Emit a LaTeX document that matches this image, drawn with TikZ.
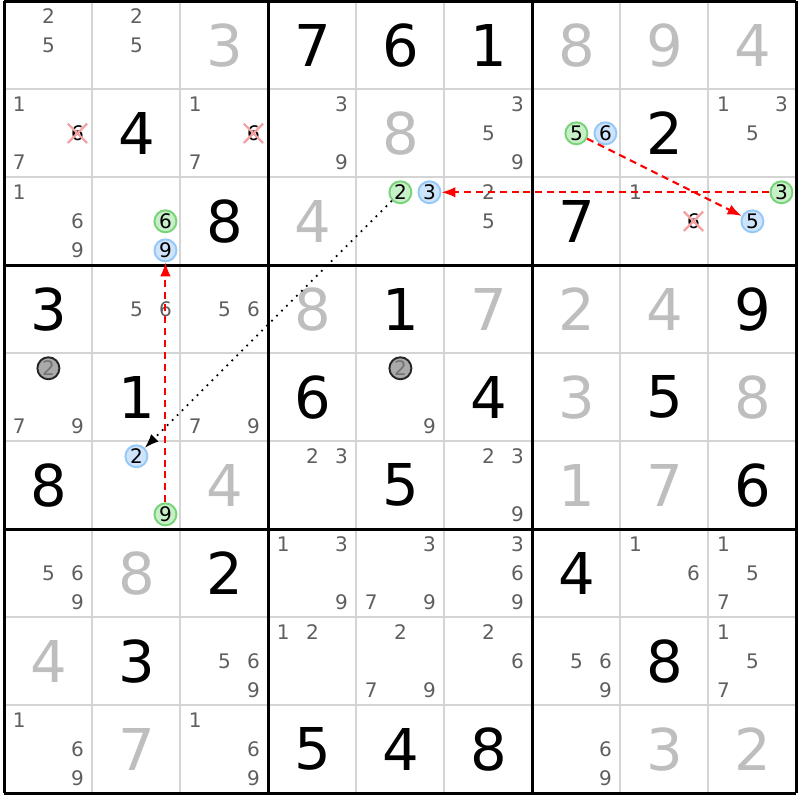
\documentclass[tikz,border=0pt]{standalone}
\usepackage{fontspec}
\setmainfont{DejaVu Sans}
\usetikzlibrary{arrows.meta,shapes.misc}
\definecolor{candgray}{RGB}{95,95,95}
\definecolor{solvedgray}{RGB}{190,190,190}
\definecolor{linegray}{RGB}{212,212,212}
\definecolor{strokegreen}{RGB}{120,210,120}
\definecolor{fillgreen}{RGB}{200,240,200}
\definecolor{strokeblue}{RGB}{150,200,245}
\definecolor{fillblue}{RGB}{205,228,252}
\definecolor{fillgray}{RGB}{170,170,170}
\definecolor{elimred}{RGB}{245,160,160}
\definecolor{linkred}{RGB}{255,0,0}
\newcommand{\givendigit}[3]{\node[given] (g#1#2) at (#2-0.5,0.5-#1) {#3};}
\newcommand{\solveddigit}[3]{\node[solved] (g#1#2) at (#2-0.5,0.5-#1) {#3};}
\newcommand{\candidate}[4][cand]{\node[#1] (c#2#3#4) at ({#3-0.5+(mod(#4-1,3)-1)*0.33},{0.5-#2-(floor((#4-1)/3)-1)*0.33}) {#4};}
\newcommand{\cellcands}[3]{\foreach \n in {#3} {\candidate{#1}{#2}{\n}}}
\tikzstyle{given} = [font=\fontsize{16.4}{18}\selectfont, text=black, inner sep=0pt]
\tikzstyle{solved} = [given, text=solvedgray]
\tikzstyle{cand} = [font=\fontsize{5.7}{7}\selectfont, text=candgray, inner sep=0pt]
\tikzstyle{ringcand} = [cand, circle, line width=0.55pt, minimum size=0.22cm, text=black]
\tikzstyle{greencand} = [ringcand, draw=strokegreen, fill=fillgreen]
\tikzstyle{bluecand} = [ringcand, draw=strokeblue, fill=fillblue]
\tikzstyle{graycand} = [ringcand, draw=black!85, fill=fillgray, text=black!55]
\tikzstyle{elimcand} = [cand, cross out, draw=elimred, line width=0.65pt, minimum size=0.17cm, text=black]
\tikzstyle{cellline} = [linegray, line width=0.57pt]
\tikzstyle{boxline} = [black, line width=0.85pt]
\tikzstyle{stronglink} = [draw=linkred, line width=0.6pt, dash pattern=on 2pt off 1.4pt, -{Latex[length=4pt,width=3pt]}]
\tikzstyle{weaklink} = [draw=black, line width=0.5pt, dash pattern=on 0.5pt off 1.5pt, -{Latex[length=4pt,width=3pt]}]

\begin{document}
\begin{tikzpicture}[x=0.88cm,y=0.88cm]
    \useasboundingbox (-0.05,0.015) rectangle (9.0409,-9.0759);
    \foreach \i in {1,2,4,5,7,8} {
        \draw[cellline] (\i,0) -- (\i,-9);
        \draw[cellline] (0,-\i) -- (9,-\i);
    }
    \foreach \i in {0,3,6,9} {
        \draw[boxline] (\i,0) -- (\i,-9);
        \draw[boxline] (0,-\i) -- (9,-\i);
    }
    % row 1
    \cellcands{1}{1}{2,5}
    \cellcands{1}{2}{2,5}
    \solveddigit{1}{3}{3}
    \givendigit{1}{4}{7}
    \givendigit{1}{5}{6}
    \givendigit{1}{6}{1}
    \solveddigit{1}{7}{8}
    \solveddigit{1}{8}{9}
    \solveddigit{1}{9}{4}
    % row 2
    \cellcands{2}{1}{1,7}
    \candidate[elimcand]{2}{1}{6}
    \givendigit{2}{2}{4}
    \cellcands{2}{3}{1,7}
    \candidate[elimcand]{2}{3}{6}
    \cellcands{2}{4}{3,9}
    \solveddigit{2}{5}{8}
    \cellcands{2}{6}{3,5,9}
    \candidate[greencand]{2}{7}{5}
    \candidate[bluecand]{2}{7}{6}
    \givendigit{2}{8}{2}
    \cellcands{2}{9}{1,3,5}
    % row 3
    \cellcands{3}{1}{1,6,9}
    \candidate[greencand]{3}{2}{6}
    \candidate[bluecand]{3}{2}{9}
    \givendigit{3}{3}{8}
    \solveddigit{3}{4}{4}
    \candidate[greencand]{3}{5}{2}
    \candidate[bluecand]{3}{5}{3}
    \cellcands{3}{6}{2,5}
    \givendigit{3}{7}{7}
    \candidate{3}{8}{1}
    \candidate[elimcand]{3}{8}{6}
    \candidate[greencand]{3}{9}{3}
    \candidate[bluecand]{3}{9}{5}
    % row 4
    \givendigit{4}{1}{3}
    \cellcands{4}{2}{5,6}
    \cellcands{4}{3}{5,6}
    \solveddigit{4}{4}{8}
    \givendigit{4}{5}{1}
    \solveddigit{4}{6}{7}
    \solveddigit{4}{7}{2}
    \solveddigit{4}{8}{4}
    \givendigit{4}{9}{9}
    % row 5
    \candidate[graycand]{5}{1}{2}
    \cellcands{5}{1}{7,9}
    \givendigit{5}{2}{1}
    \cellcands{5}{3}{7,9}
    \givendigit{5}{4}{6}
    \candidate[graycand]{5}{5}{2}
    \candidate{5}{5}{9}
    \givendigit{5}{6}{4}
    \solveddigit{5}{7}{3}
    \givendigit{5}{8}{5}
    \solveddigit{5}{9}{8}
    % row 6
    \givendigit{6}{1}{8}
    \candidate[bluecand]{6}{2}{2}
    \candidate[greencand]{6}{2}{9}
    \solveddigit{6}{3}{4}
    \cellcands{6}{4}{2,3}
    \givendigit{6}{5}{5}
    \cellcands{6}{6}{2,3,9}
    \solveddigit{6}{7}{1}
    \solveddigit{6}{8}{7}
    \givendigit{6}{9}{6}
    % row 7
    \cellcands{7}{1}{5,6,9}
    \solveddigit{7}{2}{8}
    \givendigit{7}{3}{2}
    \cellcands{7}{4}{1,3,9}
    \cellcands{7}{5}{3,7,9}
    \cellcands{7}{6}{3,6,9}
    \givendigit{7}{7}{4}
    \cellcands{7}{8}{1,6}
    \cellcands{7}{9}{1,5,7}
    % row 8
    \solveddigit{8}{1}{4}
    \givendigit{8}{2}{3}
    \cellcands{8}{3}{5,6,9}
    \cellcands{8}{4}{1,2}
    \cellcands{8}{5}{2,7,9}
    \cellcands{8}{6}{2,6}
    \cellcands{8}{7}{5,6,9}
    \givendigit{8}{8}{8}
    \cellcands{8}{9}{1,5,7}
    % row 9
    \cellcands{9}{1}{1,6,9}
    \solveddigit{9}{2}{7}
    \cellcands{9}{3}{1,6,9}
    \givendigit{9}{4}{5}
    \givendigit{9}{5}{4}
    \givendigit{9}{6}{8}
    \cellcands{9}{7}{6,9}
    \solveddigit{9}{8}{3}
    \solveddigit{9}{9}{2}
    % links
    \draw[stronglink] (c393) -- (c353);
    \draw[stronglink] (c275) -- (c395);
    \draw[weaklink] (c352) -- (c622);
    \draw[stronglink] (c629) -- (c329);
\end{tikzpicture}
\end{document}
